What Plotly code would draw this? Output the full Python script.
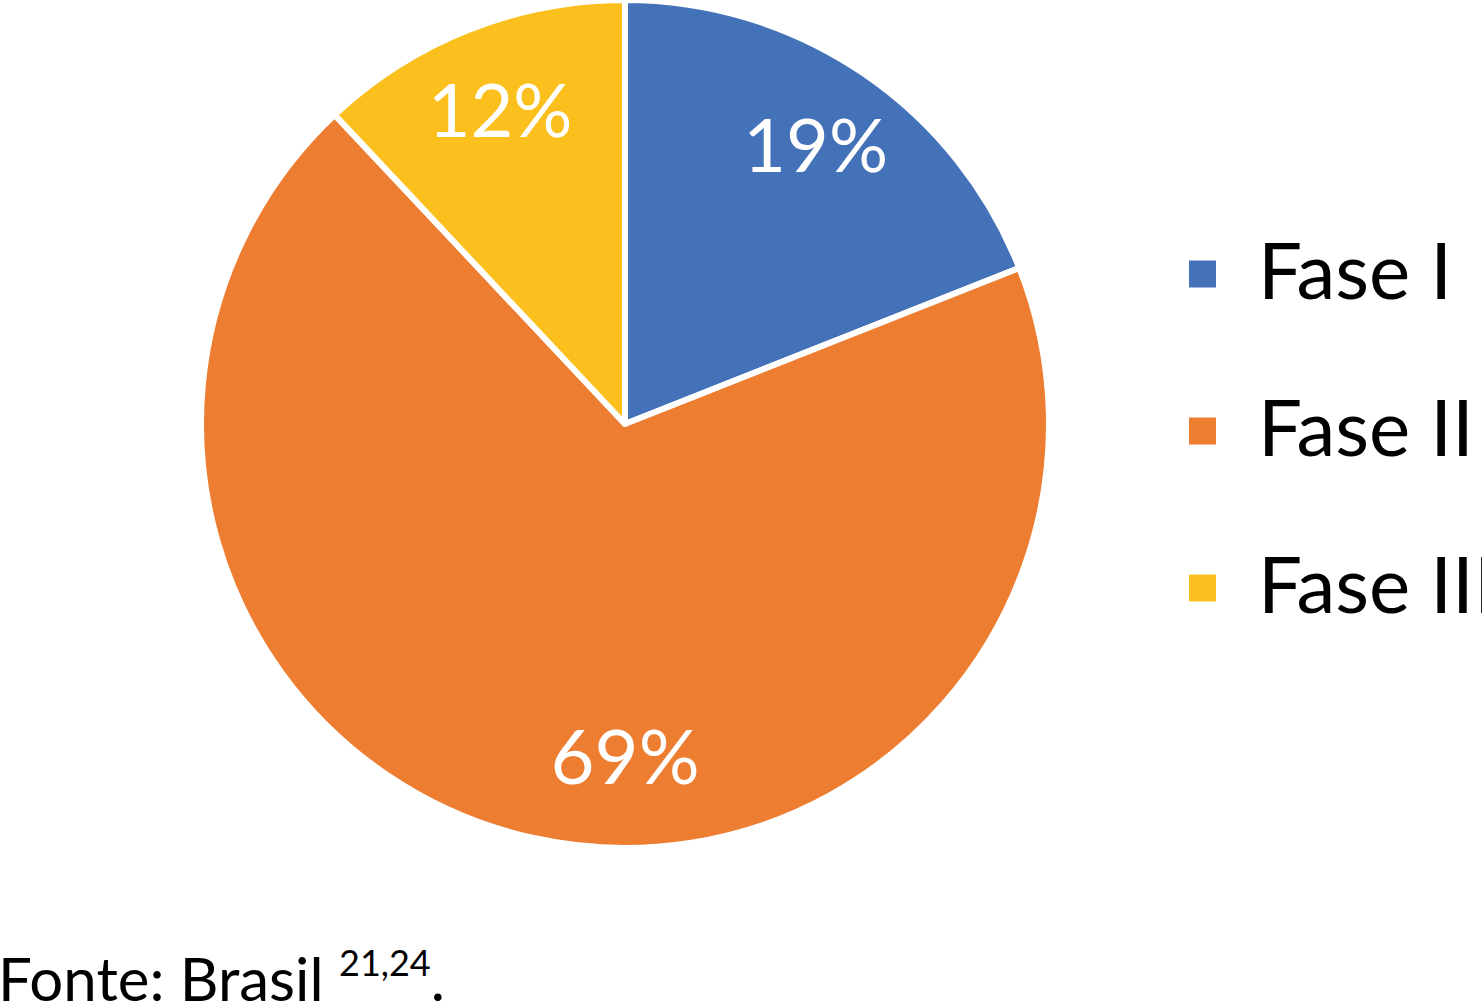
import plotly.graph_objects as go

# dados do gráfico
fases = ["Fase I", "Fase II", "Fase III"]
valores = [19, 69, 12]
cores = ["#4372B8", "#ED7D31", "#FBC01E"]
fonte = 'Fonte: Brasil <sup><span style="font-size:36px">21,24</span></sup>.'

FONT = "Lato"
W, H = 1482, 1002
dominio = dict(x=[200 / W, 1050 / W], y=[1 - 848 / H, 1])

fig = go.Figure()

# fatias
fig.add_trace(go.Pie(
    labels=fases, values=valores, sort=False, direction="clockwise",
    rotation=0, showlegend=False, textinfo="none",
    marker=dict(colors=cores, line=dict(color="white", width=6)),
    domain=dominio, hoverinfo="label+percent",
))

# rótulos de porcentagem (anel transparente para ficarem a ~80% do raio)
fig.add_trace(go.Pie(
    labels=fases, values=valores, sort=False, direction="clockwise",
    rotation=0, showlegend=False, hole=0.6,
    marker=dict(colors=["rgba(0,0,0,0)"] * 3, line=dict(width=0)),
    textinfo="percent", texttemplate="%{percent:.0%}",
    textposition="inside", insidetextorientation="horizontal",
    insidetextfont=dict(color="white", size=76, family=FONT),
    domain=dominio, hoverinfo="skip",
))

# legenda
shapes, annotations = [], []
for i, (nome, cor) in enumerate(zip(fases, cores)):
    yc = 274 + 157 * i
    shapes.append(dict(
        type="rect", xref="paper", yref="paper",
        x0=1189 / W, x1=1216 / W, y0=1 - (yc - 13.5) / H, y1=1 - (yc + 13.5) / H,
        fillcolor=cor, line=dict(width=0),
    ))
    annotations.append(dict(
        text=nome, x=1256 / W, xref="paper", xanchor="left",
        y=1 - (yc - 5) / H, yref="paper", yanchor="middle", showarrow=False,
        font=dict(size=78, family=FONT, color="black"),
    ))

annotations.append(dict(
    text=fonte, x=0, xref="paper", xanchor="left", xshift=-4,
    y=0, yref="paper", yanchor="bottom", yshift=-14,
    showarrow=False, font=dict(size=60, family=FONT, color="black"),
))

fig.update_layout(
    width=W, height=H,
    margin=dict(l=0, r=0, t=0, b=0),
    paper_bgcolor="white", plot_bgcolor="white",
    font=dict(family=FONT, color="black"),
    shapes=shapes, annotations=annotations,
)

fig.write_html("out.html", config={"displayModeBar": False},
               post_script="document.body.style.margin='0px';")
